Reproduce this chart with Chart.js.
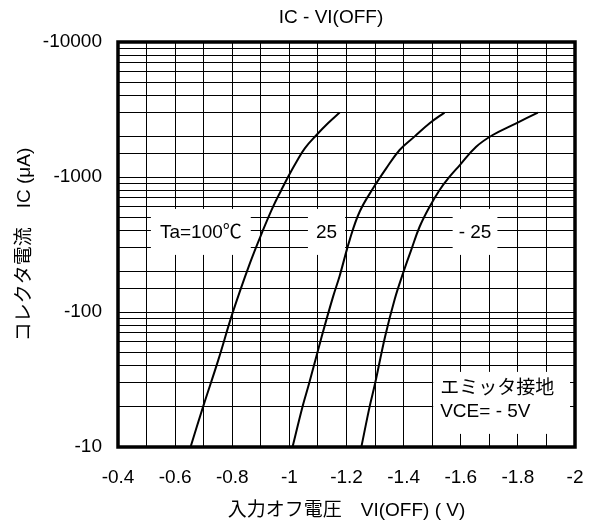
<!DOCTYPE html>
<html>
<head>
<meta charset="utf-8">
<script src="https://cdn.jsdelivr.net/npm/chart.js@4.4.1/dist/chart.umd.min.js"></script>
<style>
html,body{margin:0;padding:0;background:#fff;}
#wrap{width:591px;height:527px;}
</style>
</head>
<body>
<div id="wrap"><canvas id="c"></canvas></div>
<script>
// ---- data ----
const chartTitle = 'IC - VI(OFF)';
const xTitle = '入力オフ電圧　VI(OFF) ( V)';
const yTitle = 'コレクタ電流　IC (μA)';

const vi100 = [-0.654, -0.698, -0.751, -0.801, -0.862, -0.908, -0.943, -0.972, -0.999, -1.025, -1.054, -1.095, -1.135, -1.176];
const ic100 = [-10, -19.9, -44, -98, -230, -405, -603, -802, -1035, -1298, -1632, -2047, -2500, -3000];

const vi25 = [-1.011, -1.046, -1.069, -1.113, -1.153, -1.176, -1.211, -1.246, -1.293, -1.339, -1.386, -1.438, -1.491, -1.543];
const ic25 = [-10, -19.9, -29.5, -65.6, -130, -185, -341, -553, -824, -1158, -1585, -1991, -2500, -3000];

const viM25 = [-1.252, -1.281, -1.300, -1.335, -1.369, -1.398, -1.427, -1.456, -1.491, -1.526, -1.561, -1.596, -1.654, -1.712, -1.794, -1.87];
const icM25 = [-10, -19.9, -29.5, -65.6, -125, -194, -290, -428, -603, -802, -1005, -1220, -1675, -2047, -2500, -3000];

const xMin = -2, xMax = -0.4, xStep = 0.1;
const yMin = 10, yMax = 10000;

const tempLabels = ['Ta=100℃', '25', '- 25'];
const tempLabelX = [-0.69, -1.13, -1.65];
const tempLabelY = [-392, -392, -392];
const noteLines = ['エミッタ接地', 'VCE= - 5V'];

// ---- build ----
const FONT = "'Liberation Sans', Arial, 'Noto Sans CJK JP', sans-serif";
function pts(xs, ys){ return xs.map((x,i)=>({x:x, y:Math.abs(ys[i])})); }

const ds = (xs, ys) => ({
  data: pts(xs, ys), borderColor:'#000', borderWidth:2, pointRadius:0,
  tension:0.4, fill:false
});

const framePlugin = {
  id:'frame',
  beforeDatasetsDraw(chart){
    const ctx = chart.ctx, xs = chart.scales.x, ys = chart.scales.y;
    ctx.save();
    ctx.font = '19px ' + FONT;
    ctx.textAlign = 'center'; ctx.textBaseline = 'middle';
    const padX = [9, 8, 6];
    tempLabels.forEach((t,i)=>{
      const cx = xs.getPixelForValue(tempLabelX[i]);
      const cy = ys.getPixelForValue(Math.abs(tempLabelY[i]));
      const w = ctx.measureText(t).width;
      ctx.fillStyle = '#fff';
      ctx.fillRect(cx - w/2 - padX[i], cy - 23, w + 2*padX[i], 46);
      ctx.fillStyle = '#000';
      ctx.fillText(t, cx, cy + 1);
    });
    // note box
    const nx = xs.getPixelForValue(-1.5) + 1;
    const ny = ys.getPixelForValue(36);
    ctx.fillStyle = '#fff';
    ctx.fillRect(nx, ny, chart.chartArea.right - 5 - nx, 62);
    ctx.fillStyle = '#000';
    ctx.textAlign = 'left';
    ctx.fillText(noteLines[0], nx + 7, ny + 17);
    ctx.fillText(noteLines[1], nx + 7, ny + 40);
    ctx.restore();
  },
  afterDraw(chart){
    const ctx = chart.ctx, a = chart.chartArea;
    ctx.save();
    ctx.strokeStyle = '#000'; ctx.lineWidth = 3.5;
    ctx.strokeRect(a.left, a.top, a.right - a.left, a.bottom - a.top);
    ctx.font = '19px ' + FONT;
    ctx.fillStyle = '#000'; ctx.textAlign = 'center'; ctx.textBaseline = 'middle';
    ctx.fillText(chartTitle, 331, 18);
    ctx.restore();
  }
};

new Chart(document.getElementById('c'), {
  type:'line',
  data:{ datasets:[ds(vi100, ic100), ds(vi25, ic25), ds(viM25, icM25)] },
  options:{
    responsive:true, maintainAspectRatio:false, animation:false,
    layout:{ padding:{ left:0, right:16, top:42, bottom:0 } },
    plugins:{ legend:{display:false}, tooltip:{enabled:false}, title:{display:false} },
    scales:{
      x:{
        type:'linear', min:xMin, max:xMax, reverse:true,
        afterFit(s){ s.height = 80; s.paddingLeft = 0; s.paddingRight = 0; },
        border:{display:false},
        grid:{ color:'#000', lineWidth:1, drawTicks:false },
        ticks:{
          stepSize:xStep, autoSkip:false, maxRotation:0, padding:19,
          color:'#000', font:{ family:FONT, size:19 },
          callback(v){
            const t = Math.round(v*10);
            if (t % 2 !== 0) return '';
            return String(t/10);
          }
        },
        title:{ display:true, text:xTitle, color:'#000', font:{ family:FONT, size:19 }, padding:{top:0, bottom:5} }
      },
      y:{
        type:'logarithmic', min:yMin, max:yMax,
        afterFit(s){ s.width = 118; s.paddingTop = 0; s.paddingBottom = 0; },
        border:{display:false},
        grid:{ color:'#000', lineWidth:1, drawTicks:false },
        ticks:{
          autoSkip:false, padding:16, color:'#000', font:{ family:FONT, size:19 },
          callback(v){
            const l = Math.log10(v);
            if (Math.abs(l - Math.round(l)) < 1e-9) return '-' + Math.round(v);
            return '';
          }
        },
        title:{ display:true, text:yTitle, color:'#000', font:{ family:FONT, size:19 }, padding:{top:13, bottom:0} }
      }
    }
  },
  plugins:[framePlugin]
});
</script>
</body>
</html>
